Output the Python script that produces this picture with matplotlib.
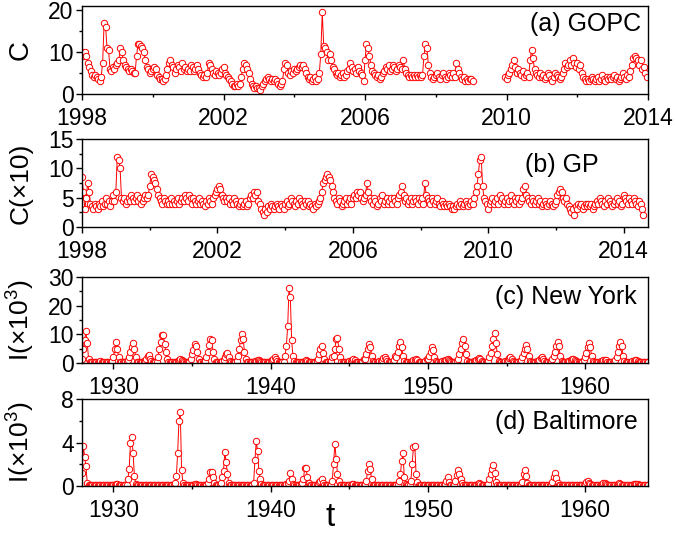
import matplotlib
matplotlib.use('Agg')
import matplotlib.pyplot as plt
from matplotlib.ticker import MultipleLocator
import numpy as np

plt.rcParams['font.family'] = ['Liberation Sans', 'DejaVu Sans']
plt.rcParams['mathtext.fontset'] = 'custom'
plt.rcParams['mathtext.rm'] = 'Liberation Sans'
plt.rcParams['mathtext.it'] = 'Liberation Sans'

# (a) GOPC, half-monthly values; gap during 2009
gopc_part1 = [
    10, 9, 10, 9, 7.5, 6.5, 5.5, 4.5, 4, 4.5, 4, 3.5, 3, 4, 7.5, 17, 16, 11, 10.5, 6, 5.5, 6.5, 6, 7,      # 1998
    7.5, 8, 11, 10, 8, 7, 6.5, 6, 5.5, 6, 5.5, 5, 5, 9, 12, 12, 11.5, 11, 10, 8, 6.5, 6, 5, 5.5,          # 1999
    6, 6.5, 6, 4.5, 4, 3.5, 3.5, 3, 3.5, 4.5, 6, 7.5, 8, 7, 6.5, 5, 6, 7, 6.5, 5.5, 7.5, 6, 6.5, 5.5,      # 2000
    6, 5.5, 7, 6.5, 5.5, 6, 7, 6, 5, 4.5, 4, 4.5, 4, 5, 7.5, 7, 6, 5, 4.5, 5.5, 5, 4.5, 5, 6,              # 2001
    6.5, 5, 4.5, 4, 3.5, 3, 2.5, 2, 2, 2.5, 2, 2.5, 4, 6, 7.5, 7, 6, 5, 3.5, 2.5, 2, 1.5, 2, 1.5,          # 2002
    1.5, 1, 2, 2.5, 3, 3.5, 4, 3.5, 3, 3.5, 3, 3.5, 3, 2.5, 2, 2.5, 3, 6, 7.5, 7, 5, 4.5, 5.5, 5,          # 2003
    6, 5.5, 6, 6.5, 7, 6.5, 7, 6, 5, 4, 3.5, 4, 3, 3.5, 4, 3, 3.5, 5, 9.5, 19.5, 11.5, 11, 10, 8,          # 2004
    9.5, 8, 6.5, 6, 5, 4.5, 5, 4, 4.5, 5, 4, 4.5, 5.5, 6, 7.5, 6.5, 5.5, 6, 5, 6.5, 5.5, 5, 4.5, 3,        # 2005
    8, 12, 11, 9, 7, 5.5, 5, 4.5, 4, 4.5, 3.5, 4, 5, 5.5, 6.5, 6, 7, 5.5, 6, 7, 6.5, 5.5, 6, 7,            # 2006
    6.5, 6, 8, 6, 5, 4.5, 4, 4.5, 4, 4.5, 4, 4.5, 4, 4.5, 4, 4.5, 9, 12, 11, 7, 5, 4, 3.5, 4,              # 2007
    4.5, 5, 4, 3.5, 4.5, 5, 4, 3.5, 4, 5, 4.5, 4, 5, 4, 7.5, 6, 5, 4, 3.5, 4, 3, 3.5, 3, 3.5,              # 2008
    3.5, 3,                                                                                                 # 2009
]
gopc_part2 = [
    4,                                                                                                      # late 2009
    3.5, 4.5, 5, 6, 7, 8, 6.5, 5, 6, 5, 4.5, 5.5, 4, 4.5, 5, 4, 8, 10.5, 8.5, 6, 5, 4.5, 4, 5,              # 2010
    4, 4.5, 3.5, 4, 5, 4.5, 3.5, 3, 4, 5, 4.5, 4, 3.5, 4, 5, 6, 7.5, 6.5, 7, 8, 7, 8.5, 7.5, 6.5,          # 2011
    7.5, 6, 7, 5, 4, 3.5, 3, 3.5, 3, 3.5, 4, 3.5, 3, 3.5, 4, 3, 3.5, 4.5, 3.5, 3, 4, 3.5, 4, 3.5,          # 2012
    4, 4.5, 3.5, 4, 3, 3.5, 4, 5, 4, 3.5, 4.5, 4, 5.5, 7, 8.5, 9, 8.5, 8, 7, 8, 6, 6.5, 5, 4,              # 2013
]

# (b) GP, half-monthly, in units of 10
gp = [
    8.5, 6, 3, 5, 7.5, 6, 4, 3.5, 3, 4, 3.5, 3, 4, 3.5, 4.5, 3.5, 4, 5, 4, 4.5, 3.5, 4.5, 5.5, 4.5,        # 1998
    6, 12, 11.5, 10, 5, 4.5, 5, 4, 4.5, 5, 4.5, 5.5, 5, 4.5, 5, 5.5, 4.5, 5, 4, 4.5, 5, 5.5, 5, 5.5,      # 1999
    7, 9, 8.5, 8, 7.5, 6.5, 5.5, 5, 4.5, 4, 5, 4.5, 4, 4.5, 4, 5, 4, 4.5, 4, 4.5, 5, 4, 4.5, 5,            # 2000
    4.5, 5.5, 5, 4.5, 5.5, 5, 4, 5, 4.5, 4, 4.5, 5, 4, 4.5, 4, 3.5, 4.5, 4, 5, 4.5, 4, 5, 5.5, 6,          # 2001
    6.5, 7, 6.5, 5.5, 5, 4.5, 5, 4.5, 5, 4, 4.5, 4, 5, 4.5, 4, 3.5, 4, 4.5, 3.5, 4, 4.5, 3.5, 4, 5,        # 2002
    5.5, 5, 6, 5.5, 6, 4.5, 4, 3, 2.5, 2, 3, 2.5, 3.5, 3, 4, 3.5, 3, 3.5, 4, 3.5, 3, 4, 3.5, 3,            # 2003
    4, 4.5, 3.5, 4, 5, 4.5, 4, 3.5, 4.5, 4, 5, 4.5, 4, 3.5, 4.5, 4, 4.5, 3.5, 4, 3.5, 3, 4, 3.5, 4,        # 2004
    4.5, 5, 6, 7.5, 8, 8.5, 9, 8.5, 8, 7, 6, 5, 4.5, 4, 5, 4.5, 3.5, 4, 4.5, 5, 4, 4.5, 5, 4,              # 2005
    5, 5.5, 5, 6, 5.5, 6, 5, 4.5, 5, 5.5, 7.5, 6, 5, 4.5, 4, 5, 4.5, 3.5, 4, 5, 4.5, 5.5, 4, 4.5,          # 2006
    5, 4, 4.5, 5, 4, 5, 4.5, 4, 5, 5.5, 6, 7, 5.5, 4.5, 5, 4, 4.5, 5, 4, 4.5, 5, 4.5, 4, 5,                # 2007
    4.5, 5, 4, 7.5, 5.5, 5, 4.5, 4, 5, 4.5, 4, 4.5, 5, 4, 3.5, 4.5, 4, 3.5, 4, 3.5, 4, 3.5, 3, 3.5,        # 2008
    3, 3.5, 4, 3.5, 4.5, 4, 3.5, 4, 4.5, 4, 3.5, 4, 4.5, 4, 5, 6, 7, 9, 11.5, 12, 7, 5, 4.5, 4,            # 2009
    3, 4, 4.5, 5, 4, 4.5, 5, 4, 5.5, 4.5, 5, 4, 4.5, 5, 4, 4.5, 5.5, 4.5, 4, 5, 4.5, 5, 4, 4.5,            # 2010
    5, 6.5, 7, 5.5, 5, 4.5, 4, 5, 4.5, 4, 4.5, 5, 4, 4.5, 3.5, 4, 4.5, 4, 3.5, 4, 4.5, 4, 3.5, 4,          # 2011
    4.5, 5.5, 6, 6.5, 6, 5, 4.5, 5, 4, 3.5, 3, 2.5, 3, 2, 3.5, 3, 4, 3.5, 4, 3, 3.5, 4, 3.5, 4,            # 2012
    3.5, 4, 3, 3.5, 4, 4.5, 4, 5, 4.5, 4, 3.5, 4.5, 4, 5, 4.5, 4, 3.5, 4, 4.5, 5, 4, 4.5, 3.5, 4,          # 2013
    5.5, 5, 4.5, 4, 5, 4.5, 4, 5, 4.5, 4, 3.5, 4.5, 4, 3, 2,                                               # 2014
]

# (c) New York measles, monthly, thousands
new_york = [
    1.5, 5, 8, 11, 7, 1.5, 0.4, 0.3, 0.2, 0.2, 0.3, 0.4,      # 1928
    0.4, 0.5, 0.6, 0.5, 0.4, 0.3, 0.2, 0.2, 0.2, 0.3, 0.4, 0.8,  # 1929
    2, 5, 7.5, 5, 2, 0.5, 0.3, 0.2, 0.2, 0.3, 0.5, 1,         # 1930
    2, 4, 5.5, 7, 5, 2, 0.5, 0.3, 0.2, 0.3, 0.4, 0.6,         # 1931
    0.8, 1.5, 2.5, 2.7, 1.5, 0.6, 0.3, 0.2, 0.2, 0.5, 2, 5,   # 1932
    7.3, 9.6, 9.6, 6.7, 3.8, 1.5, 0.4, 0.2, 0.2, 0.2, 0.3, 0.4,  # 1933
    0.5, 0.8, 1.2, 1.5, 1.2, 0.6, 0.3, 0.2, 0.2, 0.3, 0.5, 1.5,  # 1934
    3, 4.5, 6.7, 6, 4, 1.5, 0.4, 0.2, 0.2, 0.3, 0.8, 2,       # 1935
    4, 6.2, 8.5, 7.9, 4, 1.5, 0.4, 0.2, 0.2, 0.3, 0.4, 0.6,   # 1936
    1, 2, 3.3, 3.5, 2, 0.8, 0.3, 0.2, 0.2, 0.3, 0.8, 2.5,     # 1937
    5, 8, 10, 8.5, 4, 1.5, 0.4, 0.2, 0.2, 0.3, 0.4, 0.5,      # 1938
    0.6, 0.8, 1, 1, 0.8, 0.5, 0.3, 0.2, 0.2, 0.2, 0.3, 0.4,   # 1939
    0.6, 1, 1.5, 2, 1.5, 0.7, 0.3, 0.2, 0.2, 0.3, 0.5, 2.5,   # 1940
    6, 13, 26, 23, 8, 2.5, 0.6, 0.3, 0.2, 0.3, 0.3, 0.4,      # 1941
    0.4, 0.5, 0.7, 1, 0.8, 0.5, 0.3, 0.2, 0.2, 0.3, 0.4, 0.8, # 1942
    1.5, 3, 5, 5.8, 3.5, 1.5, 0.5, 0.2, 0.2, 0.3, 0.6, 2,     # 1943
    2.5, 5, 8.5, 8.8, 5, 2, 0.5, 0.2, 0.2, 0.3, 0.4, 0.5,     # 1944
    0.6, 0.8, 1.2, 1.5, 1, 0.5, 0.3, 0.2, 0.2, 0.3, 0.5, 1.5, # 1945
    1.5, 3, 5, 6.5, 5.5, 2.5, 0.6, 0.2, 0.2, 0.3, 0.4, 0.6,   # 1946
    0.8, 1.2, 1.8, 2, 1.5, 0.6, 0.3, 0.2, 0.2, 0.4, 1, 2.5,   # 1947
    2, 4, 6, 7.3, 5.5, 2.5, 0.6, 0.2, 0.2, 0.3, 0.4, 0.5,     # 1948
    0.6, 0.9, 1.2, 1.5, 1, 0.5, 0.3, 0.2, 0.2, 0.3, 0.6, 1.5, # 1949
    1.5, 2.5, 4, 5.5, 4.5, 2, 0.6, 0.3, 0.2, 0.3, 0.4, 0.6,   # 1950
    0.6, 0.9, 1.2, 1.5, 1.2, 0.6, 0.3, 0.2, 0.2, 0.3, 0.6, 1.5,  # 1951
    3, 5, 7, 8.5, 6, 3, 0.8, 0.3, 0.2, 0.3, 0.4, 0.6,         # 1952
    0.7, 1, 1.5, 1.8, 1.3, 0.6, 0.3, 0.2, 0.2, 0.3, 0.6, 2,   # 1953
    3.5, 6, 8.5, 10.5, 7, 3, 0.8, 0.3, 0.2, 0.3, 0.4, 0.6,    # 1954
    0.8, 1.2, 1.6, 2, 1.5, 0.6, 0.3, 0.2, 0.2, 0.3, 0.5, 1.2, # 1955
    2, 3.5, 5, 6.2, 5, 2.5, 0.7, 0.3, 0.2, 0.3, 0.4, 0.6,     # 1956
    0.8, 1.2, 1.7, 2, 1.5, 0.7, 0.3, 0.2, 0.2, 0.3, 0.6, 1.5, # 1957
    2.5, 4, 6, 7.5, 6, 2.5, 0.7, 0.3, 0.2, 0.3, 0.4, 0.6,     # 1958
    0.7, 1, 1.3, 1.5, 1.2, 0.6, 0.3, 0.2, 0.2, 0.3, 0.5, 1.2, # 1959
    2, 3.5, 5.5, 7, 5.5, 2.5, 0.7, 0.3, 0.2, 0.3, 0.4, 0.5,   # 1960
    0.6, 0.8, 1, 1.2, 1, 0.5, 0.3, 0.2, 0.2, 0.3, 0.5, 1.2,   # 1961
    2, 4, 6, 7.5, 6, 2.5, 0.7, 0.3, 0.2, 0.3, 0.4, 0.5,       # 1962
    0.6, 0.8, 1, 1, 0.8, 0.5, 0.3, 0.2, 0.2, 0.3, 0.4, 0.5,   # 1963
    0.5,
]

# (d) Baltimore measles, monthly, thousands
baltimore = [
    1.2, 3.7, 2.7, 1.8, 0.3, 0.1, 0.05, 0.05, 0.05, 0.05, 0.05, 0.1,   # 1928
    0.1, 0.1, 0.1, 0.1, 0.1, 0.05, 0.05, 0.05, 0.05, 0.05, 0.05, 0.05, # 1929
    0.05, 0.1, 0.15, 0.2, 0.1, 0.05, 0.05, 0.05, 0.05, 0.05, 0.1, 0.6, # 1930
    1.6, 4, 4.5, 3, 0.9, 0.2, 0.05, 0.05, 0.05, 0.05, 0.05, 0.05,      # 1931
    0.05, 0.05, 0.1, 0.1, 0.05, 0.05, 0.05, 0.05, 0.05, 0.05, 0.05, 0.05,  # 1932
    0.05, 0.05, 0.1, 0.1, 0.1, 0.05, 0.05, 0.05, 0.05, 0.05, 0.1, 0.3, # 1933
    0.9, 3, 6, 6.8, 1.5, 0.3, 0.1, 0.05, 0.05, 0.05, 0.05, 0.05,       # 1934
    0.1, 0.1, 0.2, 0.2, 0.1, 0.05, 0.05, 0.05, 0.05, 0.05, 0.05, 0.1,  # 1935
    0.3, 0.6, 1.3, 1.3, 0.8, 0.3, 0.1, 0.05, 0.05, 0.1, 0.3, 0.8,      # 1936
    1.4, 3.1, 2.2, 1.1, 0.3, 0.1, 0.05, 0.05, 0.05, 0.05, 0.05, 0.05,  # 1937
    0.05, 0.1, 0.1, 0.1, 0.1, 0.05, 0.05, 0.05, 0.05, 0.05, 0.1, 0.3,  # 1938
    2.4, 4.1, 3.2, 1.4, 0.6, 0.2, 0.05, 0.05, 0.05, 0.05, 0.05, 0.05,  # 1939
    0.05, 0.05, 0.1, 0.1, 0.1, 0.05, 0.05, 0.05, 0.05, 0.05, 0.05, 0.1,  # 1940
    0.2, 0.3, 0.5, 1.2, 0.6, 0.2, 0.05, 0.05, 0.05, 0.05, 0.1, 0.2,    # 1941
    0.3, 0.6, 1.7, 1.7, 0.8, 0.3, 0.05, 0.05, 0.05, 0.05, 0.05, 0.1,   # 1942
    0.2, 0.4, 0.5, 0.6, 0.3, 0.1, 0.05, 0.05, 0.05, 0.05, 0.1, 0.5,    # 1943
    2, 3.9, 2.5, 1.1, 0.5, 0.1, 0.05, 0.05, 0.05, 0.05, 0.05, 0.05,    # 1944
    0.1, 0.1, 0.2, 0.2, 0.1, 0.05, 0.05, 0.05, 0.05, 0.05, 0.05, 0.1,  # 1945
    0.2, 0.5, 1.4, 2, 1.6, 0.6, 0.1, 0.05, 0.05, 0.05, 0.05, 0.05,     # 1946
    0.05, 0.1, 0.1, 0.1, 0.1, 0.05, 0.05, 0.05, 0.05, 0.05, 0.05, 0.1, # 1947
    0.1, 0.1, 0.5, 1.1, 2.3, 3, 0.8, 0.2, 0.1, 0.05, 0.1, 0.5,         # 1948
    2, 3.6, 3.7, 1.1, 0.4, 0.1, 0.05, 0.05, 0.05, 0.05, 0.05, 0.05,    # 1949
    0.05, 0.05, 0.1, 0.1, 0.05, 0.05, 0.05, 0.05, 0.05, 0.05, 0.05, 0.05,  # 1950
    0.1, 0.2, 0.5, 0.8, 0.4, 0.1, 0.05, 0.05, 0.1, 0.5, 1, 1.5,        # 1951
    1.1, 0.6, 0.3, 0.1, 0.05, 0.05, 0.05, 0.05, 0.05, 0.05, 0.05, 0.05,  # 1952
    0.05, 0.1, 0.2, 0.3, 0.2, 0.1, 0.05, 0.05, 0.05, 0.05, 0.2, 0.6,   # 1953
    1.1, 1.6, 1.9, 1.2, 0.4, 0.1, 0.05, 0.05, 0.05, 0.05, 0.05, 0.05,  # 1954
    0.05, 0.1, 0.1, 0.1, 0.05, 0.05, 0.05, 0.05, 0.05, 0.05, 0.05, 0.1,  # 1955
    0.4, 1.1, 1.5, 0.9, 0.3, 0.1, 0.05, 0.05, 0.05, 0.05, 0.05, 0.05,  # 1956
    0.05, 0.1, 0.1, 0.1, 0.05, 0.05, 0.05, 0.05, 0.05, 0.05, 0.1, 0.4, # 1957
    0.8, 1.2, 0.7, 0.3, 0.1, 0.05, 0.05, 0.05, 0.05, 0.05, 0.05, 0.05, # 1958
    0.05, 0.1, 0.1, 0.1, 0.05, 0.05, 0.05, 0.05, 0.05, 0.05, 0.05, 0.1,  # 1959
    0.2, 0.4, 0.5, 0.3, 0.2, 0.1, 0.05, 0.05, 0.05, 0.05, 0.05, 0.1,   # 1960
    0.1, 0.2, 0.3, 0.3, 0.2, 0.1, 0.05, 0.05, 0.05, 0.05, 0.05, 0.1,   # 1961
    0.1, 0.2, 0.25, 0.2, 0.1, 0.05, 0.05, 0.05, 0.05, 0.05, 0.05, 0.1, # 1962
    0.1, 0.15, 0.2, 0.2, 0.15, 0.1, 0.05, 0.05, 0.05, 0.05, 0.05, 0.1, # 1963
    0.1,
]

panel_titles = ['(a) GOPC', '(b) GP', '(c) New York', '(d) Baltimore']
y_labels = ['C', 'C(×10)', 'I(×10$^3$)', 'I(×10$^3$)']
recent_major = [1998, 2002, 2006, 2010, 2014]
recent_minor = [2000, 2004, 2008, 2012]

# time axes
t_a1 = 1998 + np.arange(len(gopc_part1)) / 24.0
t_a2 = 2009 + 23 / 24.0 + np.arange(len(gopc_part2)) / 24.0
t_b = 1998 + np.arange(len(gp)) / 24.0
t_c = 1928 + np.arange(len(new_york)) / 12.0
t_d = 1928 + np.arange(len(baltimore)) / 12.0

fig = plt.figure(figsize=(6.75, 5.35), dpi=100)
W, H = 675.0, 535.0
left, right = 82, 648
boxes = [(6, 94), (139, 227), (277, 363), (399, 486)]
axes = []
for top, bot in boxes:
    axes.append(fig.add_axes([left / W, 1 - bot / H, (right - left) / W, (bot - top) / H]))

style = dict(color='red', lw=0.7, marker='o', ms=4.6, mfc='white', mec='red', mew=0.7)

ax = axes[0]
ax.plot(t_a1, gopc_part1, **style)
ax.plot(t_a2, gopc_part2, **style)
ax.set_xlim(1998, 2014)
ax.set_ylim(0, 21)
ax.yaxis.set_major_locator(MultipleLocator(10))
ax.yaxis.set_minor_locator(MultipleLocator(5))

ax = axes[1]
ax.plot(t_b, gp, **style)
ax.set_xlim(1998, 2014.72)
ax.set_ylim(0, 15)
ax.yaxis.set_major_locator(MultipleLocator(5))
ax.yaxis.set_minor_locator(MultipleLocator(2.5))

for ax in axes[:2]:
    ax.set_xticks(recent_major)
    ax.set_xticks(recent_minor, minor=True)

ax = axes[2]
ax.plot(t_c, new_york, **style)
ax.set_ylim(0, 30)
ax.yaxis.set_major_locator(MultipleLocator(10))
ax.yaxis.set_minor_locator(MultipleLocator(5))

ax = axes[3]
ax.plot(t_d, baltimore, **style)
ax.set_ylim(0, 8)
ax.yaxis.set_major_locator(MultipleLocator(4))
ax.yaxis.set_minor_locator(MultipleLocator(2))

for ax in axes[2:]:
    ax.set_xlim(1928, 1964)
    ax.xaxis.set_major_locator(MultipleLocator(10))
    ax.xaxis.set_minor_locator(MultipleLocator(5))

label_pos = [(0.988, 0.80), (0.912, 0.70), (0.98, 0.77), (0.982, 0.74)]
label_x = [-0.085, -0.088, -0.079, -0.079]
label_size = [20, 19, 19, 19]
for ax, title, ylab, (tx, ty), lx, ls in zip(axes, panel_titles, y_labels, label_pos,
                                              label_x, label_size):
    ax.tick_params(which='both', direction='out', top=False, right=False,
                   labelsize=16.5, width=1)
    ax.tick_params(which='major', length=4)
    ax.tick_params(which='minor', length=2.5)
    ax.tick_params(axis='x', which='major', pad=5.5)
    ax.tick_params(axis='y', which='major', pad=2)
    for s in ax.spines.values():
        s.set_linewidth(1)
    ax.text(tx, ty, title, transform=ax.transAxes, ha='right', va='center', fontsize=18)
    ax.set_ylabel(ylab, fontsize=ls)
    ax.yaxis.set_label_coords(lx, 0.5)

fig.text(330 / W, 1 - 517 / H, 't', fontsize=24, ha='center', va='center')

fig.savefig('out.png', dpi=100)
